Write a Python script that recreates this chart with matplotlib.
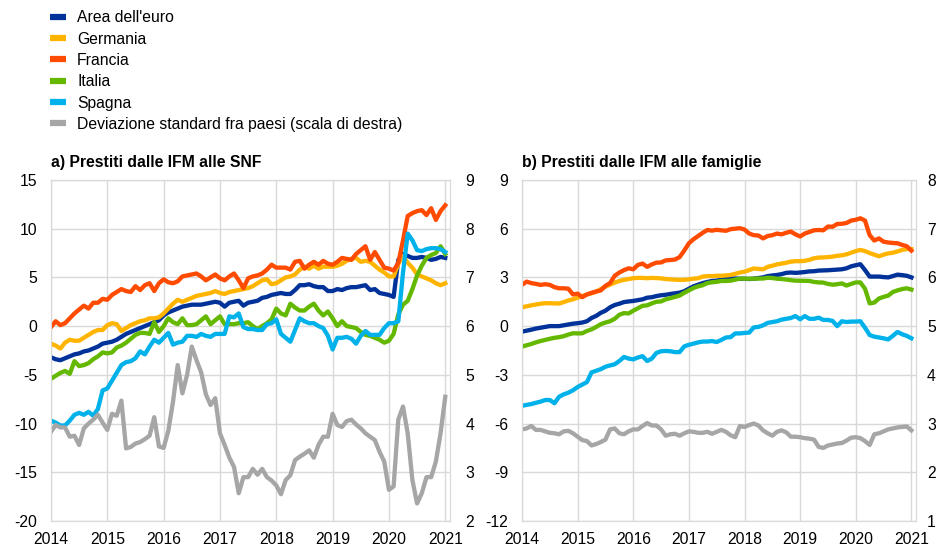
import matplotlib
matplotlib.use("Agg")
import matplotlib.pyplot as plt
from matplotlib.lines import Line2D
import numpy as np

plt.rcParams['font.family'] = ['Liberation Sans', 'DejaVu Sans']
plt.rcParams['axes.unicode_minus'] = False

# mesi da gen 2014 a gen 2021
mesi = 2014 + np.arange(85) / 12.0
anni = [2014, 2015, 2016, 2017, 2018, 2019, 2020, 2021]

serie = ["Area dell'euro", "Germania", "Francia", "Italia", "Spagna",
         "Deviazione standard fra paesi (scala di destra)"]
colori = ["#003299", "#ffb400", "#ff4b00", "#65b800", "#00b1ea", "#a6a6a6"]

# a) prestiti alle SNF
snf_area = [-3.2, -3.4, -3.5, -3.3, -3.1, -2.9, -2.8, -2.6, -2.5, -2.3, -2.1, -1.8, -1.7, -1.6, -1.4, -1.1, -0.8,
            -0.6, -0.4, -0.2, 0.0, 0.2, 0.4, 0.6, 1.1, 1.4, 1.6, 1.8, 2.0, 2.1, 2.2, 2.2, 2.2, 2.3, 2.4, 2.5, 2.4,
            2.0, 2.4, 2.5, 2.6, 2.1, 2.4, 2.5, 2.6, 2.9, 3.0, 3.2, 3.3, 3.4, 3.3, 3.3, 3.7, 4.2, 4.2, 4.3, 4.1, 4.0,
            4.0, 3.6, 3.6, 3.8, 3.7, 3.9, 4.0, 4.0, 4.1, 4.2, 3.7, 3.8, 3.4, 3.3, 3.2, 3.0, 6.8, 7.4, 7.2, 7.0, 7.0,
            7.1, 7.0, 6.8, 6.9, 7.1, 7.0]
snf_ger = [-1.8, -2.0, -2.3, -1.7, -1.4, -1.5, -1.5, -1.2, -0.9, -0.6, -0.4, -0.4, 0.1, 0.3, 0.2, -0.5, -0.2, 0.1,
           0.3, 0.5, 0.6, 0.8, 0.8, 0.9, 1.3, 1.8, 2.3, 2.7, 2.5, 2.7, 2.9, 3.1, 3.2, 3.3, 3.4, 3.6, 3.4, 3.3, 3.5,
           3.6, 3.7, 3.8, 3.9, 4.1, 4.4, 4.7, 4.8, 4.3, 4.4, 4.7, 5.0, 5.1, 5.3, 5.8, 6.1, 5.9, 6.2, 5.9, 6.1, 6.1,
           6.1, 6.2, 6.4, 6.7, 6.9, 7.0, 6.6, 6.7, 6.6, 6.2, 5.8, 5.5, 5.1, 5.1, 6.4, 7.2, 6.5, 6.0, 5.3, 5.1, 4.9,
           4.7, 4.4, 4.2, 4.4]
snf_fra = [-0.1, 0.5, 0.1, 0.3, 0.8, 1.3, 1.7, 2.1, 1.8, 2.4, 2.4, 2.8, 2.7, 3.2, 3.5, 3.8, 3.6, 3.5, 4.1, 3.7,
           4.2, 4.4, 3.6, 4.4, 4.8, 4.5, 4.4, 4.6, 5.1, 5.2, 5.3, 5.4, 5.1, 4.7, 5.0, 5.3, 4.9, 4.7, 5.1, 5.4, 4.7,
           3.9, 4.9, 5.1, 5.2, 5.4, 5.8, 6.3, 6.0, 6.0, 6.0, 5.8, 6.6, 6.7, 5.9, 6.3, 6.6, 6.3, 6.7, 6.4, 6.3, 6.6,
           7.0, 6.9, 6.8, 7.4, 7.8, 8.2, 6.8, 7.6, 6.8, 6.0, 5.9, 5.7, 6.5, 8.8, 11.3, 11.6, 11.8, 11.9, 11.4, 12.1,
           10.9, 11.8, 12.4]
snf_ita = [-5.4, -5.1, -4.8, -4.6, -4.9, -3.6, -4.1, -4.0, -3.8, -3.4, -3.1, -2.7, -2.8, -2.7, -2.2, -2.0, -1.7,
           -1.3, -0.9, -0.7, -0.7, -0.8, 0.4, -0.6, 0.0, 0.8, 0.4, 0.2, 0.8, 0.1, 0.1, 0.2, 0.6, 1.0, 0.2, 0.6, 1.0,
           0.2, 0.2, 0.2, 0.3, 0.3, 0.4, 0.0, -0.3, 0.0, 0.3, 0.7, 1.8, 1.3, 1.1, 2.3, 1.9, 1.6, 1.6, 2.0, 2.3, 1.6,
           1.1, 1.5, 0.8, 0.0, 0.5, 0.0, -0.1, -0.2, -0.6, -0.9, -1.0, -1.2, -1.4, -1.7, -1.5, -0.8, 1.2, 2.2, 2.6,
           3.8, 5.2, 6.2, 7.0, 7.3, 7.5, 8.2, 7.4]
snf_spa = [-9.7, -9.9, -10.2, -10.2, -9.7, -9.1, -8.9, -9.1, -8.8, -9.2, -8.5, -6.6, -6.4, -5.6, -4.8, -4.0, -3.7,
           -3.6, -3.3, -2.6, -2.9, -2.1, -1.4, -1.7, -1.2, -0.7, -1.9, -1.7, -1.6, -1.0, -1.0, -1.1, -0.8, -1.0,
           -1.1, -0.8, -0.8, -0.8, 1.0, 0.9, 1.3, -0.1, -0.3, -0.3, -0.4, -0.4, 0.2, 0.3, 0.7, -0.8, -1.2, -1.6,
           -0.4, 0.8, 0.5, 0.3, 0.3, 0.0, -0.2, -1.0, -2.4, -1.2, -1.2, -1.1, -1.3, -1.8, -1.0, -0.5, -0.9, -0.9,
           -0.9, -0.2, 0.3, 0.3, 0.5, 5.5, 9.5, 8.8, 7.8, 7.7, 7.9, 8.0, 8.0, 7.9, 7.6]
snf_dev = [3.83, 3.97, 3.92, 3.92, 3.73, 3.75, 3.56, 3.9, 4.0, 4.08, 4.18, 4.02, 3.87, 4.2, 4.16, 4.47, 3.49, 3.52,
           3.59, 3.62, 3.68, 3.75, 4.13, 3.53, 3.5, 3.85, 4.45, 5.2, 4.62, 5.0, 5.58, 5.3, 5.05, 4.6, 4.38, 4.52,
           3.8, 3.56, 3.3, 3.11, 2.57, 2.9, 2.9, 3.07, 2.95, 3.07, 2.9, 2.83, 2.73, 2.55, 2.84, 2.94, 3.25, 3.32,
           3.38, 3.45, 3.3, 3.56, 3.73, 3.73, 4.2, 3.97, 3.93, 4.05, 4.08, 3.98, 3.9, 3.8, 3.73, 3.66, 3.42, 3.22,
           2.64, 2.71, 4.08, 4.35, 3.8, 2.84, 2.36, 2.57, 2.9, 2.9, 3.22, 3.8, 4.55]

# b) prestiti alle famiglie
fam_area = [-0.34, -0.28, -0.22, -0.15, -0.1, -0.05, 0.0, 0.0, 0.0, 0.05, 0.1, 0.15, 0.18, 0.22, 0.3, 0.5, 0.63,
            0.82, 0.95, 1.16, 1.3, 1.38, 1.48, 1.52, 1.55, 1.6, 1.65, 1.75, 1.78, 1.85, 1.9, 1.93, 1.98, 2.02, 2.06,
            2.15, 2.3, 2.45, 2.55, 2.65, 2.72, 2.78, 2.8, 2.85, 2.9, 2.93, 2.93, 2.92, 2.92, 2.9, 2.92, 2.96, 3.0,
            3.08, 3.12, 3.15, 3.2, 3.28, 3.3, 3.28, 3.3, 3.33, 3.37, 3.38, 3.42, 3.43, 3.44, 3.46, 3.48, 3.5, 3.56,
            3.68, 3.75, 3.81, 3.45, 3.05, 3.05, 3.05, 3.02, 3.0, 3.08, 3.17, 3.14, 3.1, 3.0]
fam_ger = [1.16, 1.22, 1.28, 1.33, 1.38, 1.41, 1.41, 1.4, 1.39, 1.48, 1.58, 1.65, 1.75, 1.85, 1.95, 2.02, 2.12,
           2.28, 2.43, 2.55, 2.68, 2.78, 2.85, 2.9, 2.95, 2.97, 2.97, 2.95, 2.97, 2.96, 2.94, 2.9, 2.88, 2.86, 2.85,
           2.85, 2.88, 2.92, 2.95, 3.05, 3.08, 3.08, 3.1, 3.1, 3.12, 3.15, 3.22, 3.3, 3.35, 3.45, 3.55, 3.52, 3.5,
           3.65, 3.72, 3.8, 3.85, 3.9, 3.97, 4.0, 4.0, 4.02, 4.08, 4.18, 4.22, 4.23, 4.25, 4.28, 4.33, 4.36, 4.42,
           4.52, 4.62, 4.69, 4.62, 4.5, 4.4, 4.3, 4.4, 4.48, 4.52, 4.6, 4.69, 4.75, 4.74]
fam_fra = [2.54, 2.74, 2.65, 2.6, 2.54, 2.58, 2.54, 2.4, 2.33, 2.33, 2.3, 1.95, 2.0, 1.78, 1.95, 2.05, 2.13, 2.2,
           2.48, 2.65, 3.1, 3.3, 3.45, 3.56, 3.5, 3.77, 3.85, 3.65, 3.8, 3.91, 3.92, 4.05, 4.07, 4.1, 4.25, 4.65,
           5.1, 5.35, 5.55, 5.75, 5.92, 5.88, 5.93, 5.9, 5.87, 5.97, 6.0, 6.03, 5.95, 5.7, 5.6, 5.58, 5.4, 5.55,
           5.6, 5.7, 5.65, 5.75, 5.82, 5.65, 5.52, 5.7, 5.8, 5.9, 5.92, 5.9, 6.13, 6.12, 6.29, 6.3, 6.35, 6.5, 6.55,
           6.64, 6.5, 5.6, 5.27, 5.4, 5.2, 5.15, 5.12, 5.1, 5.0, 4.92, 4.65]
fam_ita = [-1.26, -1.18, -1.1, -1.0, -0.92, -0.85, -0.78, -0.72, -0.68, -0.62, -0.52, -0.44, -0.45, -0.44, -0.3,
           -0.2, -0.05, 0.12, 0.22, 0.3, 0.45, 0.7, 0.8, 0.78, 0.95, 1.1, 1.25, 1.28, 1.4, 1.5, 1.52, 1.65, 1.72,
           1.8, 1.88, 2.05, 2.2, 2.35, 2.45, 2.52, 2.65, 2.7, 2.73, 2.78, 2.78, 2.8, 2.86, 2.93, 2.92, 2.92, 2.92,
           2.93, 2.93, 2.98, 2.96, 2.92, 2.9, 2.87, 2.83, 2.8, 2.79, 2.79, 2.78, 2.72, 2.69, 2.68, 2.6, 2.55, 2.58,
           2.63, 2.5, 2.6, 2.69, 2.69, 2.3, 1.4, 1.45, 1.7, 1.8, 1.88, 2.1, 2.2, 2.28, 2.33, 2.25]
fam_spa = [-4.91, -4.85, -4.8, -4.72, -4.65, -4.55, -4.55, -4.75, -4.35, -4.2, -4.1, -3.95, -3.75, -3.6, -3.45,
           -2.85, -2.75, -2.65, -2.5, -2.42, -2.35, -2.15, -1.9, -2.0, -2.05, -1.93, -1.85, -2.15, -2.0, -1.65,
           -1.55, -1.53, -1.55, -1.6, -1.6, -1.25, -1.15, -1.08, -1.0, -0.95, -0.95, -0.92, -0.98, -0.85, -0.7,
           -0.68, -0.45, -0.45, -0.42, -0.4, -0.08, -0.05, 0.05, 0.2, 0.25, 0.3, 0.4, 0.45, 0.5, 0.62, 0.42, 0.62,
           0.45, 0.45, 0.52, 0.38, 0.38, 0.32, 0.0, 0.3, 0.25, 0.28, 0.28, 0.3, -0.1, -0.55, -0.65, -0.7, -0.75,
           -0.82, -0.6, -0.36, -0.5, -0.6, -0.75]
fam_dev = [2.88, 2.9, 2.95, 2.87, 2.87, 2.84, 2.81, 2.8, 2.78, 2.84, 2.85, 2.8, 2.73, 2.66, 2.64, 2.55, 2.58, 2.62,
           2.67, 2.88, 2.9, 2.8, 2.78, 2.84, 2.88, 2.88, 2.95, 3.01, 2.96, 2.96, 2.88, 2.75, 2.78, 2.79, 2.75, 2.8,
           2.84, 2.83, 2.81, 2.81, 2.83, 2.79, 2.83, 2.87, 2.83, 2.76, 2.72, 2.95, 2.93, 2.97, 3.0, 2.96, 2.86, 2.8,
           2.75, 2.83, 2.86, 2.82, 2.73, 2.73, 2.72, 2.7, 2.69, 2.67, 2.52, 2.5, 2.55, 2.57, 2.59, 2.6, 2.65, 2.71,
           2.72, 2.7, 2.64, 2.56, 2.78, 2.8, 2.84, 2.88, 2.9, 2.92, 2.93, 2.94, 2.86]

grigio_griglia = "#d9d9d9"
fs = 11.3


def pannello(rect, titolo, paesi, dev, ylim_sx, tick_sx, ylim_dx, tick_dx, pad_dx):
    ax = fig.add_axes(rect)
    ax.set_axisbelow(True)
    for valori, col in zip(paesi, colori[:5]):
        ax.plot(mesi, valori, color=col, lw=3.1, solid_joinstyle='round', zorder=3)
    ax.set_xlim(2014, 2021 + 1 / 12)
    ax.set_ylim(*ylim_sx)
    ax.set_yticks(tick_sx)
    ax.set_xticks(anni)
    ax.set_xticklabels([str(a) for a in anni])
    ax.grid(True, color=grigio_griglia, lw=1)
    ax.tick_params(axis='y', length=0, pad=10, labelsize=fs)
    ax.tick_params(axis='x', length=0, pad=8, labelsize=fs)
    for s in ax.spines.values():
        s.set_color(grigio_griglia)
    ax.set_title(titolo, loc='left', fontsize=fs, fontweight='bold', pad=9)

    ax2 = ax.twinx()
    ax2.plot(mesi, dev, color=colori[5], lw=3.1, solid_joinstyle='round')
    ax2.set_ylim(*ylim_dx)
    ax2.set_yticks(tick_dx)
    ax2.tick_params(axis='y', length=0, pad=pad_dx, labelsize=fs)
    for s in ax2.spines.values():
        s.set_color(grigio_griglia)
    return ax


fig = plt.figure(figsize=(9.37, 5.48), dpi=100)

pannello([0.0544, 0.0493, 0.4258, 0.6223], "a) Prestiti dalle IFM alle SNF",
         [snf_area, snf_ger, snf_fra, snf_ita, snf_spa], snf_dev,
         (-20, 15), np.arange(-20, 16, 5), (2, 9), np.arange(2, 10), 11)
pannello([0.5571, 0.0493, 0.4205, 0.6223], "b) Prestiti dalle IFM alle famiglie",
         [fam_area, fam_ger, fam_fra, fam_ita, fam_spa], fam_dev,
         (-12, 9), np.arange(-12, 10, 3), (1, 8), np.arange(1, 9), 8)

maniglie = [Line2D([0], [0], color=c, lw=4.5, solid_capstyle='butt') for c in colori]
fig.legend(maniglie, serie, loc='upper left', bbox_to_anchor=(0.053, 0.981), frameon=False,
           fontsize=fs, handlelength=1.05, handletextpad=0.7, labelspacing=0.4,
           borderpad=0, borderaxespad=0)

fig.savefig("out.png", dpi=100)
